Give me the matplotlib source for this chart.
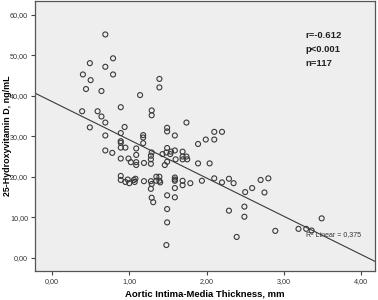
"""Scatter of 25-hydroxyvitamin D against aortic intima-media thickness (SPSS style)."""

import matplotlib

matplotlib.use("Agg")
import matplotlib.pyplot as plt
from matplotlib.ticker import FuncFormatter

# aortic IMT, mm
imt = [
    0.69, 0.49, 0.79, 0.69, 0.40, 0.79, 0.50, 0.44, 0.64, 1.14,
    1.39, 1.39, 0.39, 0.59, 0.89, 0.64, 0.69, 1.29, 1.29, 1.74,
    0.49, 0.94, 1.49, 1.49, 0.89, 0.69, 1.18, 1.18, 1.59, 2.10,
    2.20, 0.89, 0.89, 1.18, 1.99, 2.10, 1.89, 0.89, 0.95, 1.09,
    1.49, 0.69, 0.78, 1.29, 1.28, 1.28, 1.54, 1.69, 1.43, 1.59,
    1.09, 0.89, 0.99, 1.69, 1.74, 1.69, 1.75, 1.02, 1.09, 1.09,
    1.19, 1.28, 1.46, 1.49, 1.60, 1.89, 2.04, 1.53, 1.48, 0.89,
    0.89, 0.95, 1.00, 0.98, 1.06, 1.07, 1.08, 1.19, 1.28, 1.29,
    1.28, 1.35, 1.39, 1.35, 1.39, 1.40, 1.59, 1.59, 1.59, 1.59,
    1.69, 1.69, 1.79, 1.94, 2.10, 2.20, 2.29, 2.35, 2.70, 2.80,
    2.59, 2.50, 2.75, 1.29, 1.31, 1.49, 1.59, 1.49, 1.49, 1.48,
    2.29, 2.49, 2.49, 2.39, 2.89, 3.19, 3.29, 3.36, 3.49,
]

# 25-hydroxyvitamin D, ng/mL
vit_d = [
    55.2, 48.1, 49.3, 47.2, 45.3, 45.3, 43.9, 41.7, 41.2, 40.2,
    44.2, 42.1, 36.2, 36.2, 37.2, 34.9, 33.4, 36.4, 35.2, 33.4,
    32.2, 32.3, 32.1, 31.2, 30.8, 30.2, 30.3, 29.7, 30.2, 31.1,
    31.1, 28.8, 28.4, 28.3, 29.2, 29.2, 28.1, 27.2, 27.2, 27.0,
    27.1, 26.5, 25.9, 26.0, 25.2, 24.3, 26.2, 26.2, 25.6, 26.5,
    25.4, 24.5, 24.5, 25.0, 25.0, 24.3, 24.3, 23.6, 23.6, 22.9,
    23.4, 23.2, 22.9, 23.7, 24.3, 23.3, 23.3, 25.6, 26.0, 20.2,
    19.2, 18.7, 18.4, 19.3, 19.2, 18.7, 19.5, 18.9, 18.9, 18.2,
    17.0, 20.0, 20.0, 19.0, 19.0, 18.6, 19.8, 19.3, 19.0, 17.2,
    19.0, 17.9, 18.4, 19.0, 19.6, 18.6, 19.5, 18.4, 19.2, 19.6,
    17.2, 16.2, 16.1, 14.8, 13.7, 15.4, 14.9, 12.0, 8.7, 3.1,
    11.6, 12.6, 10.1, 5.1, 6.6, 7.1, 7.1, 6.7, 9.7,
]

# fit line as printed by SPSS
fit_intercept = 38.6
fit_slope = -9.46

stats_lines = ["r=-0.612", "p<0.001", "n=117"]
r2_label = "R\u00b2 Linear = 0,375"

x_ticks = [0, 1, 2, 3, 4]
y_ticks = [0, 10, 20, 30, 40, 50, 60]

plt.rcParams["font.family"] = ["Liberation Sans", "DejaVu Sans"]

fig = plt.figure(figsize=(3.78, 3.0), dpi=100)
ax = fig.add_axes([0.0926, 0.097, 0.8994, 0.900])
ax.set_facecolor("#eeeeee")

xlim = (-0.22, 4.18)
ylim = (-3.3, 63.5)
ax.set_xlim(*xlim)
ax.set_ylim(*ylim)

ax.scatter(imt, vit_d, s=13, facecolors="none", edgecolors="#3a3a3a", linewidths=0.8, zorder=3)
ax.plot(
    list(xlim),
    [fit_intercept + fit_slope * x for x in xlim],
    color="#3a3a3a",
    linewidth=0.8,
    zorder=2,
)

comma_fmt = FuncFormatter(lambda v, _: f"{v:.2f}".replace(".", ","))
ax.set_xticks(x_ticks)
ax.set_yticks(y_ticks)
ax.xaxis.set_major_formatter(comma_fmt)
ax.yaxis.set_major_formatter(comma_fmt)
ax.tick_params(direction="out", length=3, width=0.8, color="#444444", labelsize=5.2, labelcolor="#333333", pad=2)

for spine in ax.spines.values():
    spine.set_color("#555555")
    spine.set_linewidth(0.9)

ax.set_xlabel("Aortic Intima-Media Thickness, mm", fontsize=6.8, fontweight="bold", labelpad=3)
# y label placed by hand so it does not run off the left edge
fig.text(0.019, 0.097 + 0.45, "25-Hydroxyvitamin D, ng/mL", rotation=90, fontsize=6.4,
         fontweight="bold", ha="center", va="center")

for i, line in enumerate(stats_lines):
    ax.text(0.795, 0.873 - i * 0.052, line, transform=ax.transAxes, fontsize=6.8,
            fontweight="bold", color="#222222", va="center")

ax.text(0.797, 0.135, r2_label, transform=ax.transAxes, fontsize=5, color="#333333", va="center")

fig.savefig("out.png", dpi=100)
